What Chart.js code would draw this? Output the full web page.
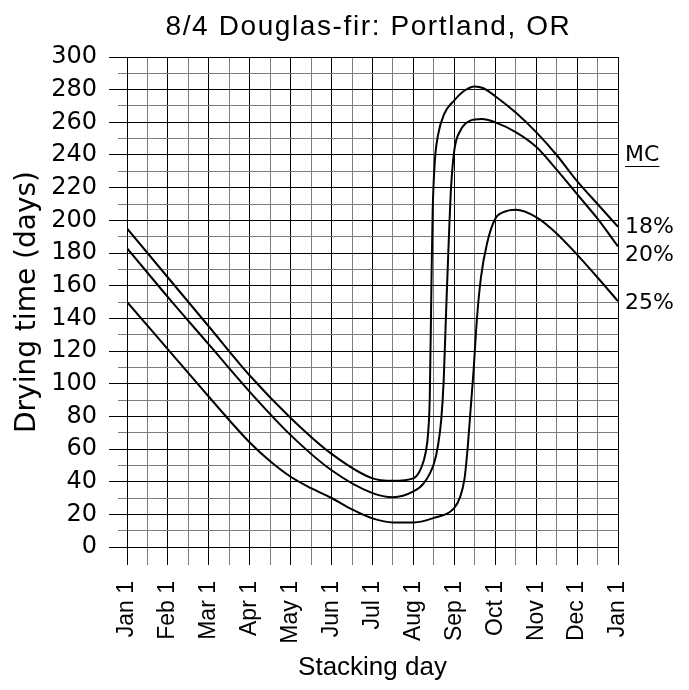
<!DOCTYPE html>
<html>
<head>
<meta charset="utf-8">
<script src="https://cdn.jsdelivr.net/npm/chart.js@4"></script>
<style>
  body { margin: 0; background: #fff; }
</style>
</head>
<body>
<canvas id="dryChart" width="689" height="690"></canvas>
<script>
// x is months after Jan 1 (0 = Jan 1, 12 = next Jan 1)
const month_labels = ['Jan 1', 'Feb 1', 'Mar 1', 'Apr 1', 'May 1', 'Jun 1', 'Jul 1',
  'Aug 1', 'Sep 1', 'Oct 1', 'Nov 1', 'Dec 1', 'Jan 1'];

const mc_labels = ['18%', '20%', '25%'];

const months_18 = [0, 1, 2, 3, 4, 5, 6, 6.5, 7, 7.2, 7.3, 7.36, 7.4, 7.44, 7.47, 7.52, 7.6, 7.75, 8, 8.25, 8.5, 8.7, 9, 9.5, 10, 10.5, 11, 11.5, 12];
const days_18 = [195, 165, 135, 105, 79, 57, 42, 40.5, 42, 49, 58, 70, 92, 160, 205, 235, 252, 265, 273.5, 279.5, 282, 281, 276, 266, 254, 240, 224, 210, 196];

const months_20 = [0, 1, 2, 3, 4, 5, 6, 6.5, 7, 7.25, 7.5, 7.6, 7.68, 7.74, 7.8, 7.86, 7.92, 8, 8.15, 8.39, 8.67, 9, 9.5, 10, 10.5, 11, 11.5, 12];
const days_20 = [183, 153, 124, 95, 68.5, 47, 33, 30.5, 34, 39, 51, 62, 78, 102, 145, 185, 220, 243, 255, 261, 262, 260, 254, 245, 231, 216, 201, 184];

const months_25 = [0, 1, 2, 3, 3.5, 4, 4.5, 5, 5.5, 6, 6.5, 7, 7.5, 8, 8.14, 8.25, 8.33, 8.4, 8.47, 8.55, 8.65, 8.8, 9, 9.2, 9.5, 10, 10.5, 11, 11.5, 12];
const days_25 = [150, 121, 92, 64, 52.5, 43, 36, 30, 23, 17.5, 15, 15, 17.8, 24, 30.5, 42, 62, 85, 108, 139, 165, 186, 201, 205, 206.5, 202, 192, 179, 165, 150.5];

function toPoints(xs, ys) {
  return xs.map((x, i) => ({x: x, y: ys[i]}));
}

Chart.defaults.color = '#000';
Chart.defaults.font.family = "'Liberation Sans', Arial, sans-serif";

const GRAY = '#7d7d7d';
const TITLE = '8/4 Douglas-fir: Portland, OR';

// title over the plot, MC labels on the right side of the plot
const chartText = {
  id: 'chartText',
  afterDraw(chart) {
    const ctx = chart.ctx;
    const area = chart.chartArea;
    const y = chart.scales.y;
    ctx.save();
    ctx.fillStyle = '#000';
    ctx.strokeStyle = '#000';

    ctx.font = "28px 'Liberation Sans', sans-serif";
    ctx.textAlign = 'center';
    ctx.textBaseline = 'middle';
    if ('letterSpacing' in ctx) ctx.letterSpacing = '1.6px';
    ctx.fillText(TITLE, (area.left + area.right) / 2 - 4, 27);
    if ('letterSpacing' in ctx) ctx.letterSpacing = '0px';

    const x0 = area.right + 7;
    ctx.font = "22px 'DejaVu Sans', sans-serif";
    ctx.textAlign = 'left';
    const yMC = y.getPixelForValue(240);
    ctx.fillText('MC', x0, yMC);
    const w = ctx.measureText('MC').width;
    ctx.lineWidth = 1;
    ctx.beginPath();
    ctx.moveTo(x0, Math.round(yMC + 11) + 0.5);
    ctx.lineTo(x0 + w, Math.round(yMC + 11) + 0.5);
    ctx.stroke();
    const nudge = [0, 9, 2];
    chart.data.datasets.forEach((ds, i) => {
      const last = ds.data[ds.data.length - 1].y;
      ctx.fillText(mc_labels[i], x0, y.getPixelForValue(last) + nudge[i]);
    });
    ctx.restore();
  }
};

function lineSet(label, xs, ys) {
  return {
    label: label,
    data: toPoints(xs, ys),
    borderColor: '#000',
    borderWidth: 2,
    pointRadius: 0,
    fill: false,
    cubicInterpolationMode: 'monotone'
  };
}

const dry_config = {
  type: 'line',
  data: {
    datasets: [
      lineSet('18%', months_18, days_18),
      lineSet('20%', months_20, days_20),
      lineSet('25%', months_25, days_25)
    ]
  },
  options: {
    responsive: false,
    animation: false,
    layout: { padding: { top: 57, right: 71, bottom: 0, left: 0 } },
    plugins: {
      legend: { display: false },
      tooltip: { enabled: false },
      title: { display: false }
    },
    scales: {
      x: {
        type: 'linear',
        min: 0,
        max: 12,
        afterFit: (s) => { s.height = 143; },
        border: { display: true, color: '#000', width: 1 },
        grid: {
          color: (c) => (c.tick && c.tick.value % 1 === 0) ? '#000' : GRAY,
          tickColor: (c) => (c.tick && c.tick.value % 1 === 0) ? '#000' : GRAY,
          lineWidth: 1,
          tickLength: 18
        },
        ticks: {
          stepSize: 0.5,
          autoSkip: false,
          maxRotation: 90,
          minRotation: 90,
          padding: 16,
          font: { size: 23 },
          callback: (v) => (v % 1 === 0) ? month_labels[v] : ''
        },
        title: {
          display: true,
          text: 'Stacking day',
          font: { size: 26 },
          padding: { top: 0, bottom: 7 }
        }
      },
      y: {
        min: 0,
        max: 300,
        afterFit: (s) => { s.width = 127; },
        border: { display: true, color: '#000', width: 1 },
        grid: {
          color: (c) => (c.tick && c.tick.value % 20 === 0) ? '#000' : GRAY,
          tickColor: (c) => (c.tick && c.tick.value % 20 === 0) ? '#000' : GRAY,
          tickBorderDash: (c) => (c.tick && c.tick.value % 20 === 0) ? [] : [9, 9],
          tickBorderDashOffset: 9,
          lineWidth: 1,
          tickLength: 18
        },
        ticks: {
          stepSize: 10,
          autoSkip: false,
          padding: 12,
          font: { family: "'DejaVu Sans', sans-serif", size: 24 },
          callback: (v) => (v % 20 === 0) ? v : ''
        },
        title: {
          display: true,
          text: 'Drying time (days)',
          font: { family: "'DejaVu Sans', sans-serif", size: 28 },
          padding: { top: 11, bottom: 0 }
        }
      }
    }
  },
  plugins: [chartText]
};

var dryChart = new Chart(
  document.getElementById('dryChart'),
  dry_config
);
</script>
</body>
</html>
